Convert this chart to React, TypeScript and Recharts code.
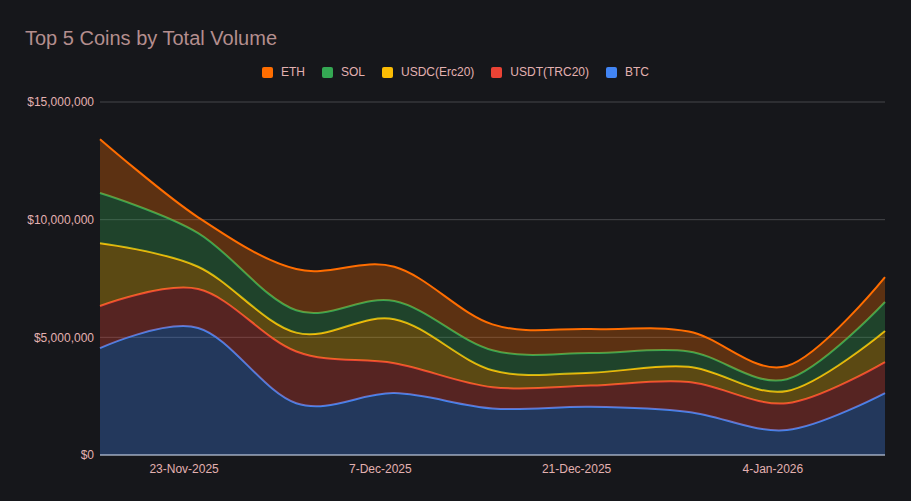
import { AreaChart, Area, XAxis, YAxis, CartesianGrid } from 'recharts';

// weekly buckets (Mondays)
const weekStarts = [
  '2025-11-17', '2025-11-24', '2025-12-01', '2025-12-08', '2025-12-15',
  '2025-12-22', '2025-12-29', '2026-01-05', '2026-01-12',
];

const btc = [4540000, 5400000, 2200000, 2630000, 1980000, 2050000, 1830000, 1060000, 2630000];
const usdtTrc20 = [1790000, 1650000, 2200000, 1270000, 900000, 900000, 1270000, 1140000, 1320000];
const usdcErc20 = [2670000, 950000, 800000, 1870000, 720000, 550000, 650000, 520000, 1320000];
const sol = [2130000, 1430000, 950000, 770000, 850000, 830000, 650000, 500000, 1230000];
const eth = [2290000, 670000, 1750000, 1460000, 1100000, 1020000, 850000, 560000, 1060000];

const tickDates = ['2025-11-23', '2025-12-07', '2025-12-21', '2026-01-04'];
const tickLabels = ['23-Nov-2025', '7-Dec-2025', '21-Dec-2025', '4-Jan-2026'];
const yTicks = [0, 5000000, 10000000, 15000000];

// bottom to top of the stack
const series = [
  { key: 'btc', name: 'BTC', color: '#4285f4', values: btc },
  { key: 'usdt', name: 'USDT(TRC20)', color: '#ea4335', values: usdtTrc20 },
  { key: 'usdc', name: 'USDC(Erc20)', color: '#fbbc04', values: usdcErc20 },
  { key: 'sol', name: 'SOL', color: '#34a853', values: sol },
  { key: 'eth', name: 'ETH', color: '#ff6d00', values: eth },
];

const toTime = (s: string) => {
  const [y, m, d] = s.split('-').map(Number);
  return Date.UTC(y, m - 1, d);
};

const data = weekStarts.map((w, i) => {
  const row: Record<string, number> = { t: toTime(w) };
  series.forEach((s) => {
    row[s.key] = s.values[i];
  });
  return row;
});

const tickTimes = tickDates.map(toTime);
const formatDate = (v: number) => {
  const i = tickTimes.indexOf(v);
  return i >= 0 ? tickLabels[i] : '';
};
const formatMoney = (v: number) => '$' + v.toLocaleString('en-US');

// catmull-rom style smoothing, closer to the "function" curves of the original
const K = 1 / 6;
function bez(c: any, x: number, y: number) {
  c._ctx.bezierCurveTo(
    c._x1 + K * (c._x2 - c._x0),
    c._y1 + K * (c._y2 - c._y0),
    c._x2 + K * (c._x1 - x),
    c._y2 + K * (c._y1 - y),
    c._x2,
    c._y2,
  );
}
const smoothCurve: any = (ctx: any) => ({
  _ctx: ctx,
  _line: NaN as number,
  _point: 0,
  _x0: NaN, _x1: NaN, _x2: NaN, _y0: NaN, _y1: NaN, _y2: NaN,
  areaStart() { this._line = 0; },
  areaEnd() { this._line = NaN; },
  lineStart() {
    this._x0 = this._x1 = this._x2 = this._y0 = this._y1 = this._y2 = NaN;
    this._point = 0;
  },
  lineEnd() {
    if (this._point === 2) this._ctx.lineTo(this._x2, this._y2);
    else if (this._point === 3) bez(this, this._x1, this._y1);
    if (this._line || (this._line !== 0 && this._point === 1)) this._ctx.closePath();
    this._line = 1 - this._line;
  },
  point(x: number, y: number) {
    x = +x; y = +y;
    if (this._point === 0) {
      this._point = 1;
      if (this._line) this._ctx.lineTo(x, y); else this._ctx.moveTo(x, y);
    } else if (this._point === 1) {
      this._point = 2;
      this._x1 = x; this._y1 = y;
    } else {
      this._point = 3;
      bez(this, x, y);
    }
    this._x0 = this._x1; this._x1 = this._x2; this._x2 = x;
    this._y0 = this._y1; this._y1 = this._y2; this._y2 = y;
  },
});

const BG = '#16171b';
const TEXT = '#e3b1b1';

const App = () => {
  return (
    <div
      style={{
        position: 'absolute',
        left: 0,
        top: 0,
        width: 911,
        height: 501,
        background: BG,
        fontFamily: 'Arial, "Liberation Sans", sans-serif',
      }}
    >
      <AreaChart
        width={911}
        height={501}
        data={data}
        margin={{ top: 102, right: 26, left: 0, bottom: 0 }}
      >
        <CartesianGrid vertical={false} stroke="#45464a" />
        <XAxis
          dataKey="t"
          type="number"
          domain={[data[0].t, data[data.length - 1].t]}
          ticks={tickTimes}
          tickFormatter={formatDate}
          interval={0}
          height={46}
          tickLine={false}
          tickSize={0}
          tickMargin={9}
          axisLine={{ stroke: '#cdd7ec' }}
          tick={{ fill: TEXT, fontSize: 12 }}
        />
        <YAxis
          domain={[0, 15000000]}
          ticks={yTicks}
          tickFormatter={formatMoney}
          interval={0}
          width={100}
          axisLine={false}
          tickLine={false}
          tickSize={0}
          tickMargin={6}
          tick={{ fill: TEXT, fontSize: 12 }}
        />
        {series.map((s) => (
          <Area
            key={s.key}
            dataKey={s.key}
            name={s.name}
            stackId="vol"
            type={smoothCurve}
            stroke={s.color}
            strokeWidth={2}
            fill={s.color}
            fillOpacity={0.3}
            dot={false}
            activeDot={false}
            isAnimationActive={false}
          />
        ))}
      </AreaChart>

      <div
        style={{
          position: 'absolute',
          left: 25,
          top: 28,
          fontSize: 20,
          lineHeight: '20px',
          color: '#b48e8e',
          whiteSpace: 'nowrap',
        }}
      >
        Top 5 Coins by Total Volume
      </div>

      <div
        style={{
          position: 'absolute',
          left: 0,
          top: 66,
          width: 911,
          display: 'flex',
          justifyContent: 'center',
          gap: 17,
          fontSize: 12,
          lineHeight: '13px',
          color: TEXT,
        }}
      >
        {[...series].reverse().map((s) => (
          <div key={s.key} style={{ display: 'flex', alignItems: 'center', gap: 8 }}>
            <span
              style={{
                display: 'inline-block',
                width: 11,
                height: 11,
                borderRadius: 2,
                background: s.color,
              }}
            />
            <span>{s.name}</span>
          </div>
        ))}
      </div>
    </div>
  );
};

export default App;
